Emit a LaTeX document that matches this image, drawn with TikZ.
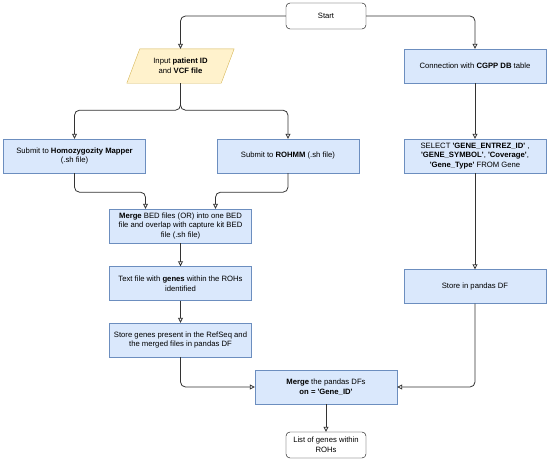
\documentclass[tikz,border=0pt]{standalone}
\usepackage{fontspec}
\setmainfont{Liberation Sans}
\usepackage{tikz}
\usetikzlibrary{positioning,arrows.meta}
\usepackage{xcolor}
\definecolor{boxfill}{HTML}{DAE8FC}
\definecolor{boxline}{HTML}{6C8EBF}
\definecolor{inpfill}{HTML}{FFF2CC}
\definecolor{inpline}{HTML}{D6B656}
\definecolor{edgecol}{HTML}{333333}

\begin{document}
\begin{tikzpicture}[x=1pt,y=-1pt,
  every node/.style={font=\fontsize{7.7}{9.7}\selectfont,align=center,inner sep=1pt},
  stepbox/.style={draw=boxline,fill=boxfill,minimum width=142pt,minimum height=34pt},
  endbox/.style={draw=black,fill=white,rounded corners=4pt,minimum width=80pt,minimum height=26pt},
  arr/.style={draw=edgecol,line width=0.8pt,rounded corners=5pt,-{Triangle[open,length=5pt,width=5pt]}}]
\useasboundingbox (0,0) rectangle (550,463);

% start and input
\node[endbox] (start) at (326,16) {Start};
\node[minimum width=107pt,minimum height=34pt] (inp) at (180.5,66) {Input \textbf{patient ID}\\and \textbf{VCF file}};
\draw[draw=inpline,fill=inpfill] (inp.south west) -- ([xshift=-13pt]inp.south east) -- (inp.north east) -- ([xshift=13pt]inp.north west) -- cycle;% parallelogram
\node at (inp) {Input \textbf{patient ID}\\and \textbf{VCF file}};

% left branch
\node[stepbox] (homo) at (74.5,156) {Submit to \textbf{Homozygozity Mapper}\\(.sh file)};
\node[stepbox] (rohmm) at (288,156) {Submit to \textbf{ROHMM} (.sh file)};
\node[stepbox] (bed) at (180.5,226) {\textbf{Merge} BED files (OR) into one BED\\file and overlap with capture kit BED\\file (.sh file)};
\node[stepbox] (genes) at (180.5,283.5) {Text file with \textbf{genes} within the ROHs\\identified};
\node[stepbox] (refseq) at (180.5,340) {Store genes present in the RefSeq and\\the merged files in pandas DF};

% right branch
\node[stepbox] (conn) at (475,66) {Connection with \textbf{CGPP DB} table};
\node[stepbox] (select) at (475,156) {SELECT \textbf{\textquotesingle GENE\_ENTREZ\_ID\textquotesingle} ,\\\textbf{\textquotesingle GENE\_SYMBOL\textquotesingle}, \textbf{\textquotesingle Coverage\textquotesingle},\\\textbf{\textquotesingle Gene\_Type\textquotesingle} FROM Gene};
\node[stepbox] (pandas) at (475,286.5) {Store in pandas DF};

% merge and result
\node[stepbox] (merge) at (326,387) {\textbf{Merge} the pandas DFs\\\textbf{on = \textquotesingle Gene\_ID\textquotesingle}};
\node[endbox] (list) at (326,445) {List of genes within\\ROHs};

% connectors
\draw[arr] (start.west) -| (inp.north);
\draw[arr] (start.east) -| (conn.north);
\draw[arr] (inp.south) -- ++(0,27) -| (homo.north);
\draw[arr] (inp.south) -- ++(0,27) -| (rohmm.north);
\draw[arr] (homo.south) -- ++(0,19) -| ([xshift=-35pt]bed.north);
\draw[arr] (rohmm.south) -- ++(0,19) -| ([xshift=35pt]bed.north);
\draw[arr] (bed) -- (genes);
\draw[arr] (genes) -- (refseq);
\draw[arr] (refseq.south) |- (merge.west);
\draw[arr] (conn) -- (select);
\draw[arr] (select) -- (pandas);
\draw[arr] (pandas.south) |- (merge.east);
\draw[arr] (merge) -- (list);

\end{tikzpicture}
\end{document}
